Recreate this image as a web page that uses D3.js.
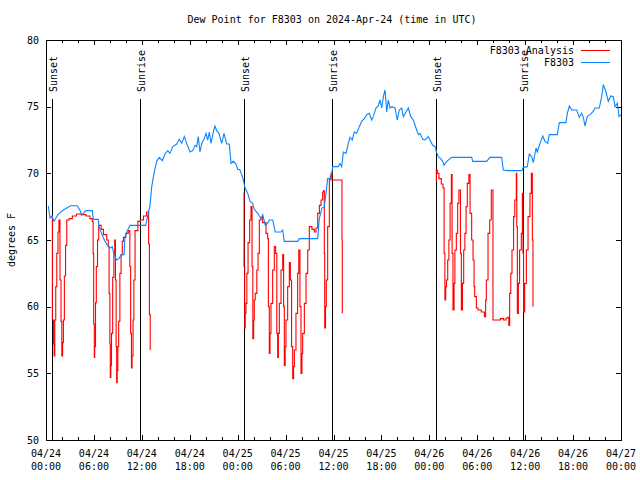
<!DOCTYPE html>
<html>
<head>
<meta charset="utf-8">
<script src="https://cdn.jsdelivr.net/npm/d3@7"></script>
<style>
  html, body { margin: 0; padding: 0; background: #fff; }
  svg { display: block; }
  text { font-family: "DejaVu Sans Mono", monospace; font-size: 10px; fill: #000; }
</style>
</head>
<body>
<svg id="chart" width="640" height="480"></svg>
<script>
// ---------------- DATA (hours since 2024-04-24 00:00 UTC, degrees F) ----------------
const titleText = "Dew Point for F8303 on 2024-Apr-24 (time in UTC)";
const yLabelText = "degrees F";
const seriesNames = ["F8303 Analysis", "F8303"];
const yTickValues = [50, 55, 60, 65, 70, 75, 80];

const sunEvents = [
  ["Sunset", 0.78], ["Sunrise", 11.8], ["Sunset", 24.8],
  ["Sunrise", 35.83], ["Sunset", 48.82], ["Sunrise", 59.78]
];

const f8303 = [
  [0.29,67.55],[0.5,66.65],[0.75,66.8],[1.0,66.4],[1.54,66.95],[2.17,67.25],[3.09,67.57],
  [3.92,67.57],[4.26,67.23],[4.47,66.88],[5.0,67.2],[5.8,67.2],[5.92,66.55],[6.55,66.55],[6.64,66.0],
  [7.18,65.15],[7.68,64.6],[8.1,64.4],[8.3,64.5],[8.51,63.9],[8.85,63.5],[9.14,63.6],[9.43,63.9],
  [9.77,63.9],[9.89,65.25],[10.18,65.7],[10.52,66.1],[12.48,66.1],[12.77,66.9],[13.02,67.6],
  [13.24,69.0],[13.52,70.0],[13.86,70.9],[14.19,71.2],[14.56,70.95],[14.9,71.45],[15.24,71.7],
  [15.53,71.5],[15.87,72.0],[16.37,72.2],[16.69,72.55],[16.99,72.25],[17.32,72.75],[17.62,72.25],
  [18.03,71.6],[18.37,71.7],[18.66,72.1],[18.87,72.0],[19.07,72.75],[19.28,71.6],[19.5,72.25],
  [19.78,72.55],[20.04,73.0],[20.25,72.5],[20.45,73.1],[20.66,72.25],[20.95,73.1],[21.16,73.55],
  [21.38,73.2],[21.66,73.0],[22.0,72.25],[22.29,73.0],[22.63,72.2],[22.95,72.2],[23.17,70.75],
  [23.45,70.9],[23.79,70.7],[24.0,70.3],[24.29,70.25],[24.5,69.9],[24.71,69.5],[24.92,68.9],
  [25.26,68.5],[25.55,67.9],[25.88,67.75],[26.08,67.3],[26.51,67.0],[26.92,66.6],[27.14,66.9],
  [27.46,66.1],[27.76,66.25],[27.96,66.5],[28.39,66.5],[28.71,65.6],[29.43,65.6],[29.64,65.75],
  [29.84,64.9],[31.52,64.9],[31.72,65.1],[34.02,65.1],[34.22,66.6],[34.56,67.4],[34.85,67.5],
  [35.06,68.5],[35.27,69.6],[35.69,69.6],[35.9,70.5],[36.6,70.5],[36.81,70.75],[37.03,70.5],
  [37.23,71.6],[37.57,71.5],[37.85,72.25],[38.07,72.7],[38.35,72.5],[38.6,73.1],[38.9,73.0],
  [39.23,73.5],[39.53,73.9],[39.86,74.1],[40.16,74.4],[40.48,74.5],[40.78,74.0],[40.98,74.25],
  [41.32,74.9],[41.61,75.05],[41.82,75.5],[42.04,74.9],[42.24,75.75],[42.45,76.25],[42.66,74.6],
  [42.86,75.5],[43.08,74.9],[43.29,75.0],[43.7,74.9],[43.99,74.0],[44.24,74.75],[44.54,74.9],
  [44.74,74.25],[45.08,74.6],[45.37,74.9],[45.67,74.25],[45.99,74.0],[46.33,73.4],[46.62,72.9],
  [46.83,73.0],[47.17,72.55],[47.46,72.5],[47.87,72.75],[48.08,72.5],[48.42,72.1],[48.71,72.0],
  [48.92,71.55],[49.12,71.25],[49.42,71.1],[49.67,70.9],[49.84,70.6],[50.18,70.9],[50.8,71.2],
  [53.31,71.2],[53.43,70.9],[53.93,70.9],[55.18,70.9],[55.6,71.2],[57.06,71.2],[57.26,70.25],
  [57.89,70.2],[59.57,70.2],[59.77,70.45],[60.27,70.5],[60.52,71.45],[60.82,71.25],[61.02,70.8],
  [61.36,71.9],[61.52,71.6],[61.86,72.25],[62.2,72.8],[62.48,72.4],[62.82,72.25],[63.02,72.9],
  [64.02,72.9],[64.28,73.8],[65.11,73.8],[65.28,74.5],[65.53,75.05],[65.83,74.75],[66.45,74.75],
  [66.78,74.2],[67.08,74.5],[67.28,74.2],[67.49,73.55],[67.78,74.25],[68.12,74.4],[68.46,74.6],
  [68.75,74.9],[69.28,74.9],[69.58,75.75],[69.79,76.65],[70.12,76.1],[70.41,75.4],[70.71,75.8],
  [71.04,75.75],[71.25,75.0],[71.54,75.25],[71.76,74.25],[72.0,74.4]
];

const analysisNight1 = [
  [0.70,66.8],[0.80,59.0],[0.95,57.2],[1.02,56.3],[1.10,59.0],[1.22,61.5],[1.35,64.0],[1.50,65.6],
  [1.62,66.5],[1.75,62.0],[1.88,58.9],[1.98,56.3],[2.08,57.3],[2.18,59.0],[2.30,62.3],[2.45,64.6],
  [2.60,66.5],[2.9,66.6],[3.3,66.8],[3.8,66.95],[4.4,66.9],[5.0,66.8],[5.5,66.6],[5.8,66.4],
  [5.9,64.0],[5.97,58.7],[6.05,56.2],[6.1,57.0],[6.2,60.3],[6.3,63.0],[6.45,65.0],[6.6,66.1],
  [6.9,65.8],[7.2,65.4],[7.6,65.0],[7.8,64.5],[7.9,61.0],[8.0,57.2],[8.05,54.7],[8.12,55.6],
  [8.2,58.0],[8.35,62.2],[8.5,64.0],[8.6,65.0],[8.7,62.0],[8.78,57.0],[8.85,54.3],[8.92,55.2],
  [9.0,57.0],[9.1,58.9],[9.25,62.5],[9.4,63.9],[9.55,64.9],[9.7,65.2],[10.0,65.5],[10.3,65.7],
  [10.5,63.0],[10.6,58.0],[10.7,55.4],[10.78,56.3],[10.9,59.0],[11.0,62.0],[11.15,65.7],
  [11.5,66.4],[11.8,66.5],[12.2,66.8],[12.6,67.1],[12.8,67.1],[12.85,64.7],[12.95,59.4],[13.05,56.75]
];

const analysisNight2 = [
  [24.72,68.5],[24.8,63.0],[24.88,58.4],[24.95,59.5],[25.04,60.25],[25.15,62.5],[25.3,64.8],
  [25.5,66.5],[25.67,67.5],[25.8,63.0],[25.9,57.6],[26.0,59.0],[26.08,60.5],[26.2,61.0],
  [26.4,62.75],[26.55,64.0],[26.71,66.5],[26.92,66.7],[27.13,66.3],[27.55,65.5],[27.76,65.1],
  [27.85,60.0],[27.96,56.5],[28.05,58.0],[28.17,60.25],[28.38,62.75],[28.59,64.5],[28.75,64.0],
  [28.9,58.0],[29.01,56.2],[29.1,58.0],[29.22,60.25],[29.43,62.75],[29.64,63.9],[29.75,60.0],
  [29.84,55.6],[29.95,57.0],[30.05,59.0],[30.26,61.5],[30.47,63.3],[30.6,62.0],[30.75,57.0],
  [30.89,54.6],[31.0,55.5],[31.1,56.75],[31.3,59.5],[31.51,62.5],[31.65,64.25],[31.8,60.0],
  [31.93,55.0],[32.05,56.5],[32.14,58.0],[32.35,60.25],[32.56,62.5],[32.77,64.25],[32.97,66.0],
  [33.3,65.8],[33.6,65.6],[33.81,65.9],[34.02,67.0],[34.23,67.6],[34.44,68.0],[34.64,68.6],
  [34.78,68.7],[34.85,64.0],[34.9,58.4],[35.0,60.0],[35.1,62.0],[35.27,66.0],[35.48,69.5],
  [35.6,69.8],[35.7,70.0],[35.8,69.5],[36.5,69.5],[37.0,69.5],[37.06,65.0],[37.1,59.5]
];

const analysisNight3 = [
  [48.82,69.4],[48.88,70.25],[49.0,70.0],[49.2,69.6],[49.5,69.2],[49.71,68.9],[49.85,64.0],
  [49.95,60.5],[50.05,61.5],[50.15,62.0],[50.3,63.5],[50.45,65.0],[50.6,67.75],[50.76,69.9],
  [50.85,64.0],[50.96,59.75],[51.1,61.75],[51.2,64.25],[51.38,65.5],[51.55,67.75],[51.7,68.75],
  [51.8,68.75],[51.9,64.0],[52.01,59.75],[52.15,61.75],[52.3,64.25],[52.45,65.5],[52.6,67.5],
  [52.75,69.25],[52.95,69.9],[53.1,67.0],[53.3,65.0],[53.47,63.5],[53.6,61.5],[53.68,60.75],
  [53.89,59.9],[54.1,59.75],[54.5,59.6],[54.9,59.25],[55.05,60.5],[55.14,62.0],[55.35,65.5],
  [55.56,66.5],[55.76,68.75],[55.85,68.75],[55.97,59.0],[56.5,59.0],[56.9,59.1],[57.3,59.0],
  [57.6,59.15],[57.85,59.2],[57.95,58.6],[58.06,61.0],[58.2,62.5],[58.35,64.25],[58.55,66.75],
  [58.7,68.0],[58.89,70.0],[58.95,66.0],[59.02,59.5],[59.15,61.75],[59.3,64.25],[59.52,65.5],
  [59.65,68.5],[59.73,64.0],[59.8,59.6],[59.94,61.75],[60.15,64.25],[60.36,66.75],[60.6,68.5],
  [60.77,70.0],[60.9,65.0],[60.98,60.0]
];
const analysisNights = [analysisNight1, analysisNight2, analysisNight3];

// ---------------- CHART ----------------
(function () {
const startMs = Date.UTC(2024, 3, 24, 0, 0);
const toDate = h => new Date(startMs + h * 3600e3);

const mLeft = 46, mRight = 621, mTop = 40, mBottom = 440;
const svg = d3.select("#chart");

const x = d3.scaleUtc().domain([toDate(0), toDate(72)]).range([mLeft, mRight]);
const y = d3.scaleLinear().domain([50, 80]).range([mBottom, mTop]);

const crisp = g => g.attr("shape-rendering", "crispEdges");

// title
svg.append("text").attr("x", 332).attr("y", 23).attr("text-anchor", "middle").text(titleText);

// y label
svg.append("text")
  .attr("transform", `translate(15,${(mTop + mBottom) / 2}) rotate(-90)`)
  .attr("text-anchor", "middle").text(yLabelText);

// axes ticks (inward, mirrored)
const majorX = d3.utcHour.every(6).range(toDate(0), toDate(72.01));
const minorX = d3.utcHour.every(2).range(toDate(0), toDate(72.01));

svg.append("g").attr("transform", `translate(0,${mBottom})`).call(crisp)
  .call(d3.axisBottom(x).tickValues(minorX).tickSize(-3).tickFormat(""));
svg.append("g").attr("transform", `translate(0,${mBottom})`).call(crisp)
  .call(d3.axisBottom(x).tickValues(majorX).tickSize(-5).tickFormat(""));
svg.append("g").attr("transform", `translate(0,${mTop})`).call(crisp)
  .call(d3.axisTop(x).tickValues(minorX).tickSize(-3).tickFormat(""));
svg.append("g").attr("transform", `translate(0,${mTop})`).call(crisp)
  .call(d3.axisTop(x).tickValues(majorX).tickSize(-5).tickFormat(""));
svg.append("g").attr("transform", `translate(${mLeft},0)`).call(crisp)
  .call(d3.axisLeft(y).tickValues(yTickValues).tickSize(-5).tickFormat(""));
svg.append("g").attr("transform", `translate(${mRight},0)`).call(crisp)
  .call(d3.axisRight(y).tickValues(yTickValues).tickSize(-5).tickFormat(""));
svg.selectAll(".domain").remove();
svg.selectAll(".tick line").attr("stroke", "#000");

// tick labels
const fmtD = d3.utcFormat("%m/%d"), fmtT = d3.utcFormat("%H:%M");
const xl = svg.append("g");
majorX.forEach(d => {
  const t = xl.append("text").attr("text-anchor", "middle");
  t.append("tspan").attr("x", x(d)).attr("y", 457).text(fmtD(d));
  t.append("tspan").attr("x", x(d)).attr("y", 470).text(fmtT(d));
});
yTickValues.forEach(v => {
  svg.append("text").attr("x", 39).attr("y", y(v) + 3.5).attr("text-anchor", "end").text(v);
});

// sunrise / sunset markers
const sunG = svg.append("g");
sunEvents.forEach(([name, h]) => {
  const xx = Math.round(x(toDate(h))) + 0.5;
  sunG.append("line").attr("x1", xx).attr("x2", xx).attr("y1", y(75.6)).attr("y2", mBottom)
    .attr("stroke", "#000").attr("stroke-width", 1).call(crisp);
  sunG.append("text").attr("transform", `translate(${xx + 4},92) rotate(-90)`)
    .attr("text-anchor", "start").text(name);
});

// lines
const lineStep = d3.line().curve(d3.curveStepAfter).x(d => x(toDate(d[0]))).y(d => y(d[1]));
const line = d3.line().x(d => x(toDate(d[0]))).y(d => y(d[1]));
const red = "#ff0000", blue = "#0a84ff";
analysisNights.forEach(seg => {
  svg.append("path").datum(seg).attr("d", lineStep).attr("fill", "none")
    .attr("stroke", red).attr("stroke-width", 1.1);
});
svg.append("path").datum(f8303).attr("d", line).attr("fill", "none")
  .attr("stroke", blue).attr("stroke-width", 1.1);

// border
svg.append("rect").attr("x", mLeft + 0.5).attr("y", mTop + 0.5)
  .attr("width", mRight - mLeft).attr("height", mBottom - mTop)
  .attr("fill", "none").attr("stroke", "#000").call(crisp);

// legend
const legend = svg.append("g");
[[seriesNames[0], red, 50], [seriesNames[1], blue, 62]].forEach(([name, col, yy]) => {
  legend.append("text").attr("x", 574).attr("y", yy + 3.5).attr("text-anchor", "end").text(name);
  legend.append("line").attr("x1", 581).attr("x2", 610).attr("y1", yy + 0.5).attr("y2", yy + 0.5)
    .attr("stroke", col).attr("stroke-width", 1).call(crisp);
});
})();
</script>
</body>
</html>
